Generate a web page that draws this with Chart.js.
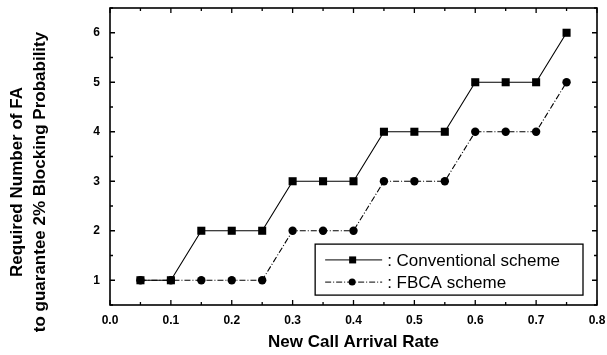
<!DOCTYPE html>
<html><head><meta charset="utf-8">
<script src="https://cdn.jsdelivr.net/npm/chart.js@4/dist/chart.umd.min.js"></script>
<style>html,body{margin:0;padding:0;background:#fff}#wrap{width:607px;height:355px}</style>
</head><body><div id="wrap"><canvas id="c" width="607" height="355"></canvas></div>
<script>
const arrivalRates = [0.05,0.10,0.15,0.20,0.25,0.30,0.35,0.40,0.45,0.50,0.55,0.60,0.65,0.70,0.75];
const conventional = [1,1,2,2,2,3,3,3,4,4,4,5,5,5,6];
const fbca = [1,1,1,1,1,2,2,2,3,3,3,4,4,4,5];
const xTickLabels = [0.0,0.1,0.2,0.3,0.4,0.5,0.6,0.7,0.8];
const yTickLabels = [1,2,3,4,5,6];
const seriesNames = [': Conventional scheme', ': FBCA scheme'];
const yTitleLines = ['Required Number of FA', 'to guarantee 2% Blocking Probability'];
const xTitle = 'New Call Arrival Rate';

const FONT = '"Liberation Sans", Arial, sans-serif';

const framePlugin = {
  id: 'frame',
  afterDatasetsDraw(chart) {
    const ctx = chart.ctx, a = chart.chartArea;
    const xs = chart.scales.x, ys = chart.scales.y;
    ctx.save();
    ctx.strokeStyle = '#000';
    ctx.lineWidth = 1.6;
    ctx.strokeRect(a.left, a.top, a.right - a.left, a.bottom - a.top);
    ctx.lineWidth = 1.3;
    const xMinor = [];
    for (let i = 0; i < xTickLabels.length - 1; i++) xMinor.push((xTickLabels[i] + xTickLabels[i+1]) / 2);
    const drawX = (v, len) => {
      const px = xs.getPixelForValue(v);
      ctx.beginPath();
      ctx.moveTo(px, a.bottom); ctx.lineTo(px, a.bottom - len);
      ctx.moveTo(px, a.top); ctx.lineTo(px, a.top + len);
      ctx.stroke();
    };
    xTickLabels.forEach(v => drawX(v, 5));
    xMinor.forEach(v => drawX(v, 3));
    const yMinor = [yTickLabels[0] - 0.5];
    for (let i = 0; i < yTickLabels.length; i++) yMinor.push(yTickLabels[i] + 0.5);
    const drawY = (v, len) => {
      const py = ys.getPixelForValue(v);
      ctx.beginPath();
      ctx.moveTo(a.left, py); ctx.lineTo(a.left + len, py);
      ctx.moveTo(a.right, py); ctx.lineTo(a.right - len, py);
      ctx.stroke();
    };
    yTickLabels.forEach(v => drawY(v, 5));
    yMinor.forEach(v => drawY(v, 3));

    // legend box
    const bx = xs.getPixelForValue(0.337), bx2 = xs.getPixelForValue(0.777);
    const by = ys.getPixelForValue(1.73), by2 = ys.getPixelForValue(0.70);
    ctx.fillStyle = '#fff';
    ctx.fillRect(bx, by, bx2 - bx, by2 - by);
    ctx.lineWidth = 1.3;
    ctx.strokeRect(bx, by, bx2 - bx, by2 - by);
    const rows = [by + (by2 - by) * 0.31, by + (by2 - by) * 0.745];
    chart.data.datasets.forEach((ds, i) => {
      const y = rows[i];
      ctx.save();
      ctx.strokeStyle = '#000';
      ctx.lineWidth = 1;
      ctx.setLineDash(ds.borderDash || []);
      ctx.beginPath(); ctx.moveTo(bx + 10, y); ctx.lineTo(bx + 67, y); ctx.stroke();
      ctx.restore();
      ctx.fillStyle = '#000';
      if (ds.pointStyle === 'rect') {
        ctx.fillRect(bx + 34, y - 3.5, 7, 7);
      } else {
        ctx.beginPath(); ctx.arc(bx + 37, y, 3.5, 0, Math.PI * 2); ctx.fill();
      }
      ctx.font = '17px ' + FONT;
      ctx.textBaseline = 'middle';
      ctx.textAlign = 'left';
      ctx.fillText(seriesNames[i], bx + 72, y + 1);
    });
    ctx.restore();
  },
  afterDraw(chart) {
    const ctx = chart.ctx;
    ctx.save();
    ctx.fillStyle = '#000';
    ctx.font = 'bold 17px ' + FONT;
    ctx.textAlign = 'center';
    ctx.textBaseline = 'middle';
    const lineX = [17, 40];
    yTitleLines.forEach((t, i) => {
      ctx.save();
      ctx.translate(lineX[i], 182);
      ctx.rotate(-Math.PI / 2);
      ctx.fillText(t, 0, 0);
      ctx.restore();
    });
    ctx.restore();
  }
};

const zeroPad = s => { s.paddingTop = 0; s.paddingBottom = 0; s.paddingLeft = 0; s.paddingRight = 0; };

new Chart(document.getElementById('c'), {
  type: 'line',
  data: {
    datasets: [
      {
        label: seriesNames[0],
        data: arrivalRates.map((x, i) => ({x, y: conventional[i]})),
        borderColor: '#000', backgroundColor: '#000', borderWidth: 1.1,
        pointStyle: 'rect', pointRadius: 5.7, pointBorderWidth: 0,
        tension: 0
      },
      {
        label: seriesNames[1],
        data: arrivalRates.map((x, i) => ({x, y: fbca[i]})),
        borderColor: '#000', backgroundColor: '#000', borderWidth: 1.1,
        borderDash: [6, 2, 1, 2],
        pointStyle: 'circle', pointRadius: 4.2, pointBorderWidth: 0,
        tension: 0
      }
    ]
  },
  options: {
    responsive: false, animation: false, devicePixelRatio: 1,
    layout: { padding: { left: 0, top: 8, right: 10, bottom: 0 } },
    plugins: { legend: { display: false }, tooltip: { enabled: false } },
    scales: {
      x: {
        type: 'linear', min: 0, max: 0.8,
        afterBuildTicks: s => { s.ticks = xTickLabels.map(v => ({value: v})); },
        afterFit: s => { s.height = 50; zeroPad(s); },
        grid: { display: false, drawTicks: false },
        border: { display: false },
        ticks: { color: '#000', padding: 8, maxRotation: 0, font: { family: FONT, size: 12, weight: 'bold' },
                 callback: v => Number(v).toFixed(1) },
        title: { display: true, text: xTitle, color: '#000',
                 font: { family: FONT, size: 17, weight: 'bold' }, padding: { top: 4, bottom: 2 } }
      },
      y: {
        type: 'linear', min: 0.5, max: 6.5,
        afterBuildTicks: s => { s.ticks = yTickLabels.map(v => ({value: v})); },
        afterFit: s => { s.width = 110; zeroPad(s); },
        grid: { display: false, drawTicks: false },
        border: { display: false },
        ticks: { color: '#000', padding: 10, font: { family: FONT, size: 12, weight: 'bold' },
                 callback: v => String(v) }
      }
    }
  },
  plugins: [framePlugin]
});
</script>
</body></html>
